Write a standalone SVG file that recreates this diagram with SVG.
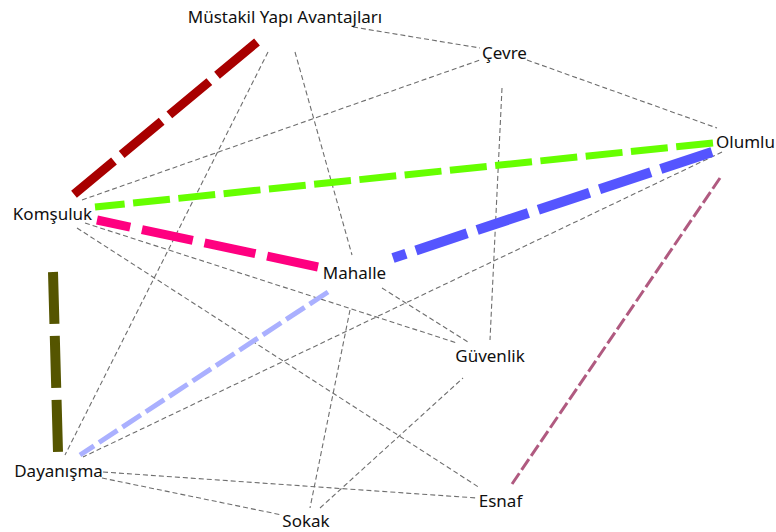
<svg xmlns="http://www.w3.org/2000/svg" width="776" height="532" viewBox="0 0 776 532">
<style>
.lbl{font-family:"Noto Sans","Open Sans","DejaVu Sans",sans-serif;font-size:17px;fill:#101010;text-anchor:middle}
.thin{stroke:#6e6e6e;stroke-width:1.1;stroke-dasharray:5 3;fill:none}
.thick{fill:none;stroke-linecap:butt}
</style>
<rect width="776" height="532" fill="#ffffff"/>
<g id="connectors">
<line class="thin" x1="353" y1="27" x2="480" y2="48"/>
<line class="thin" x1="268" y1="52" x2="65" y2="455"/>
<line class="thin" x1="295" y1="52" x2="352" y2="255"/>
<line class="thin" x1="82" y1="200" x2="480" y2="60"/>
<line class="thin" x1="527" y1="60" x2="717" y2="128"/>
<line class="thin" x1="502" y1="88" x2="490" y2="340"/>
<line class="thin" x1="722" y1="152" x2="83" y2="457"/>
<line class="thin" x1="77" y1="228" x2="480" y2="488"/>
<line class="thin" x1="85" y1="223" x2="457" y2="343"/>
<line class="thin" x1="350" y1="310" x2="310" y2="508"/>
<line class="thin" x1="382" y1="288" x2="468" y2="342"/>
<line class="thin" x1="320" y1="508" x2="463" y2="378"/>
<line class="thin" x1="103" y1="472" x2="477" y2="498"/>
<line class="thin" x1="102" y1="478" x2="282" y2="515"/>
<line class="thick" x1="257" y1="42" x2="73" y2="195" stroke="#a80000" stroke-width="9" stroke-dasharray="52 10"/>
<line class="thick" x1="713" y1="143" x2="95" y2="207" stroke="#66ff00" stroke-width="7" stroke-dasharray="37 8.5"/>
<line class="thick" x1="318" y1="267" x2="97" y2="220" stroke="#ff0080" stroke-width="9" stroke-dasharray="52 12"/>
<line class="thick" x1="712" y1="152" x2="393" y2="258" stroke="#5555ff" stroke-width="10" stroke-dasharray="54 10.5"/>
<line class="thick" x1="53" y1="272" x2="58" y2="452" stroke="#555500" stroke-width="10" stroke-dasharray="52 12"/>
<line class="thick" x1="328" y1="292" x2="80" y2="455" stroke="#aab0ff" stroke-width="5" stroke-dasharray="22 6"/>
<line class="thick" x1="720" y1="178" x2="510" y2="487" stroke="#b05a80" stroke-width="3" stroke-dasharray="13 4"/>
</g>
<g id="n-mustakil"><text class="lbl" x="285" y="23">Müstakil Yapı Avantajları</text></g>
<g id="n-cevre"><text class="lbl" x="504.5" y="59">Çevre</text></g>
<g id="n-olumlu"><text class="lbl" x="745.5" y="148">Olumlu</text></g>
<g id="n-komsuluk"><text class="lbl" x="52.5" y="220">Komşuluk</text></g>
<g id="n-mahalle"><text class="lbl" x="354.5" y="279">Mahalle</text></g>
<g id="n-guvenlik"><text class="lbl" x="490" y="362">Güvenlik</text></g>
<g id="n-dayanisma"><text class="lbl" x="58.5" y="477">Dayanışma</text></g>
<g id="n-esnaf"><text class="lbl" x="500.5" y="507">Esnaf</text></g>
<g id="n-sokak"><text class="lbl" x="306" y="527">Sokak</text></g>
</svg>
